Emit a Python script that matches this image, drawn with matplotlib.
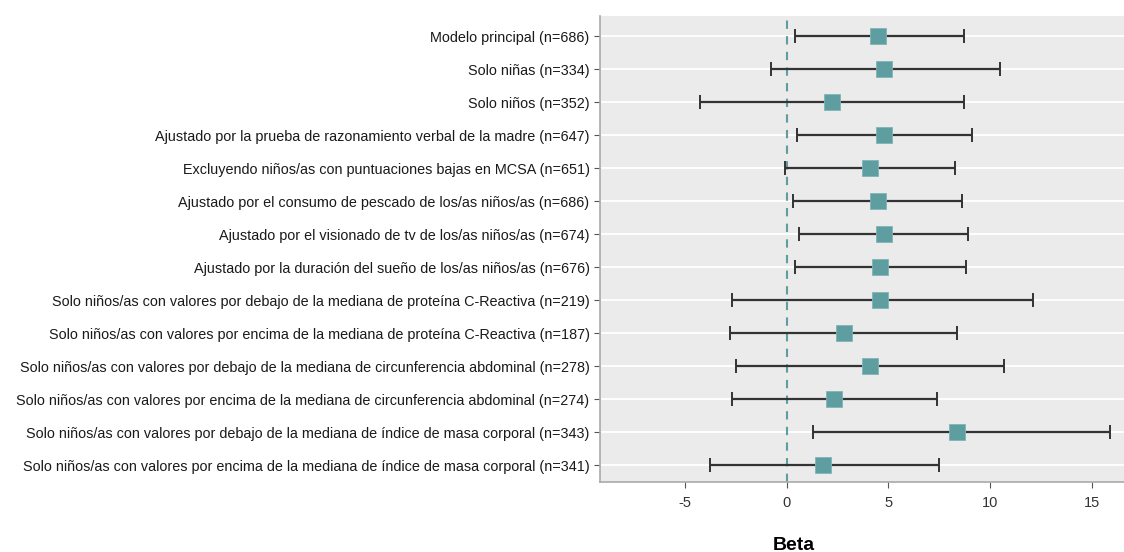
import matplotlib.pyplot as plt
import numpy as np

plt.rcParams['font.family'] = ['Liberation Sans', 'DejaVu Sans']

# Forest plot data (beta and 95% CI)
labels = [
    "Modelo principal (n=686)",
    "Solo niñas (n=334)",
    "Solo niños (n=352)",
    "Ajustado por la prueba de razonamiento verbal de la madre (n=647)",
    "Excluyendo niños/as con puntuaciones bajas en MCSA (n=651)",
    "Ajustado por el consumo de pescado de los/as niños/as (n=686)",
    "Ajustado por el visionado de tv de los/as niños/as (n=674)",
    "Ajustado por la duración del sueño de los/as niños/as (n=676)",
    "Solo niños/as con valores por debajo de la mediana de proteína C-Reactiva (n=219)",
    "Solo niños/as con valores por encima de la mediana de proteína C-Reactiva (n=187)",
    "Solo niños/as con valores por debajo de la mediana de circunferencia abdominal (n=278)",
    "Solo niños/as con valores por encima de la mediana de circunferencia abdominal (n=274)",
    "Solo niños/as con valores por debajo de la mediana de índice de masa corporal (n=343)",
    "Solo niños/as con valores por encima de la mediana de índice de masa corporal (n=341)",
]
beta = [4.5, 4.8, 2.2, 4.8, 4.1, 4.5, 4.8, 4.6, 4.6, 2.8, 4.1, 2.3, 8.4, 1.8]
ci_low = [0.4, -0.8, -4.3, 0.5, -0.1, 0.3, 0.6, 0.4, -2.7, -2.8, -2.5, -2.7, 1.3, -3.8]
ci_high = [8.7, 10.5, 8.7, 9.1, 8.3, 8.6, 8.9, 8.8, 12.1, 8.4, 10.7, 7.4, 15.9, 7.5]
xticks = [-5, 0, 5, 10, 15]

TEAL = '#5F9EA0'

fig = plt.figure(figsize=(11.24, 5.52), dpi=100)
ax = fig.add_axes([0.5338, 0.1268, 0.4662, 0.8442])
ax.set_facecolor('#EBEBEB')

y = np.arange(1, len(labels) + 1)
beta = np.array(beta)
err = [beta - np.array(ci_low), np.array(ci_high) - beta]

ax.axvline(0, color=TEAL, linestyle=(0, (4, 3.5)), linewidth=1.5, zorder=2)
ax.errorbar(beta, y, xerr=err, fmt='none', ecolor='#333333', elinewidth=1.6,
            capsize=5, capthick=1.4, zorder=3)
ax.plot(beta, y, 's', color=TEAL, markersize=11, markeredgecolor='#7FB5B7',
        markeredgewidth=0.6, zorder=4)

ax.set_xlim(-9.2, 16.6)
ax.set_ylim(14.51, 0.38)
ax.set_yticks(y)
ax.set_yticklabels(labels, fontsize=10.4, color='#1a1a1a')
ax.set_xticks(xticks)
ax.set_xticklabels([str(t) for t in xticks], fontsize=10.5, color='#333333')

ax.grid(axis='y', color='white', linewidth=1.3)
ax.grid(axis='x', visible=False)
ax.set_axisbelow(True)

for side in ['top', 'right']:
    ax.spines[side].set_visible(False)
for side in ['left', 'bottom']:
    ax.spines[side].set_color('#AAAAAA')
    ax.spines[side].set_linewidth(1.2)
ax.tick_params(axis='both', color='#555555', length=4, width=0.8)
ax.tick_params(axis='x', pad=6)

ax.set_xlabel("Beta", fontsize=14, fontweight='bold')
ax.xaxis.set_label_coords(0.37, -0.118)

fig.savefig('out.png', dpi=100)
